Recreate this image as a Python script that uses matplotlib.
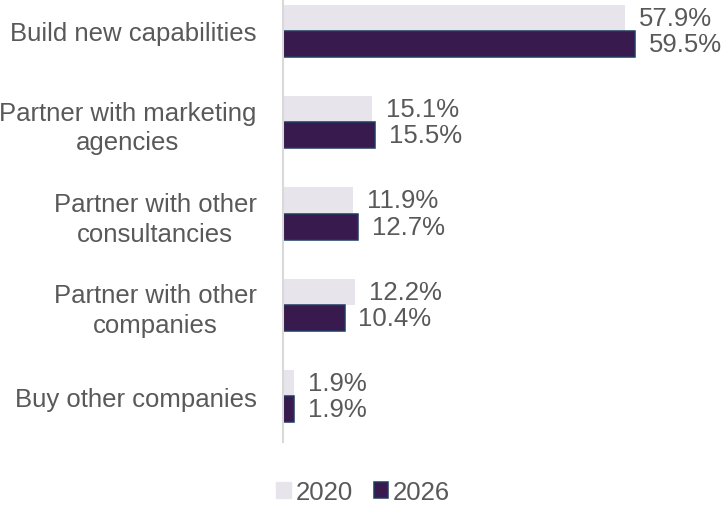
import numpy as np
import matplotlib
matplotlib.use("Agg")
import matplotlib.pyplot as plt
from matplotlib.patches import Patch

categories = [
    "Build new capabilities",
    "Partner with marketing\nagencies",
    "Partner with other\nconsultancies",
    "Partner with other\ncompanies",
    "Buy other companies",
]
share_2020 = [57.9, 15.1, 11.9, 12.2, 1.9]
share_2026 = [59.5, 15.5, 12.7, 10.4, 1.9]
years = ["2020", "2026"]

light = "#E8E4EC"
dark = "#381A4F"
edge = "#1F3A60"
text_grey = "#595959"
fsize = 18.5

plt.rcParams["font.family"] = ["Liberation Sans", "DejaVu Sans"]

fig = plt.figure(figsize=(7.25, 5.06), dpi=100)
# plot area runs slightly past the top edge of the figure
ax = fig.add_axes([283 / 725, 63 / 506, 414 / 725, 457 / 506])

y = np.arange(len(categories))
h = 0.285
ax.barh(y - h / 2, share_2020, height=h, color=light, zorder=2)
ax.barh(y + h / 2, share_2026, height=h, color=dark, edgecolor=edge,
        linewidth=1.1, zorder=2)

for yi, v in zip(y, share_2020):
    ax.annotate(f"{v:.1f}%", (v, yi - h / 2), xytext=(10, 0),
                textcoords="offset points", ha="left", va="center",
                fontsize=fsize, color=text_grey)
for yi, v in zip(y, share_2026):
    ax.annotate(f"{v:.1f}%", (v, yi + h / 2), xytext=(10, 0),
                textcoords="offset points", ha="left", va="center",
                fontsize=fsize, color=text_grey)

ax.set_xlim(0, 70)
ax.set_ylim(len(categories) - 0.5, -0.5)
ax.set_yticks(y)
ax.set_yticklabels(categories, fontsize=fsize, color=text_grey,
                   multialignment="center", linespacing=1.3)
ax.tick_params(axis="y", length=0, pad=19)
ax.set_xticks([])

for side in ["top", "right", "bottom"]:
    ax.spines[side].set_visible(False)
ax.spines["left"].set_color("#D9D9D9")
ax.spines["left"].set_linewidth(1.5)

handles = [Patch(facecolor=light, edgecolor=light),
           Patch(facecolor=dark, edgecolor=edge, linewidth=1.1)]
fig.legend(handles, years, loc="center", bbox_to_anchor=(0.501, 0.026),
           ncol=2, frameon=False, fontsize=fsize, labelcolor=text_grey,
           handlelength=0.56, handleheight=0.56, handletextpad=0.2,
           columnspacing=0.8, borderpad=0, borderaxespad=0)

fig.savefig("out.png", dpi=100)
